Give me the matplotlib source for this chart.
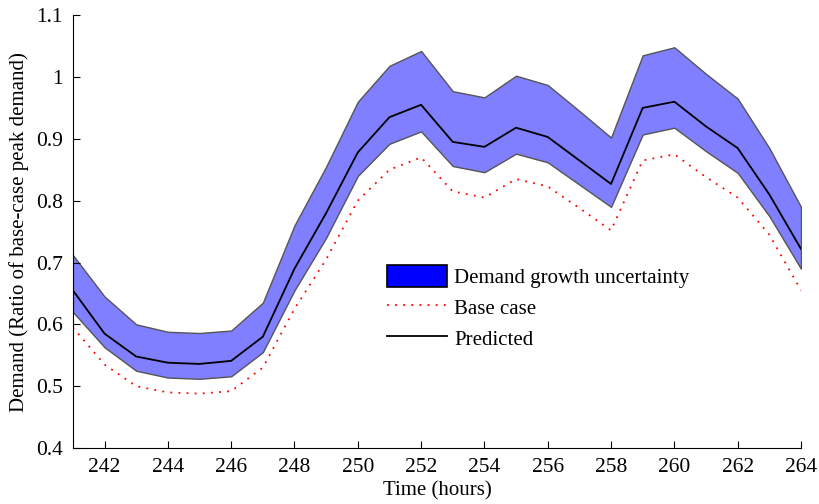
import matplotlib
matplotlib.use("Agg")
import matplotlib.pyplot as plt
import numpy as np
from matplotlib.patches import Patch
from matplotlib.lines import Line2D

plt.rcParams['font.family'] = ['Liberation Serif', 'DejaVu Serif']

# hours
hours = np.arange(241, 265)

# Predicted demand
predicted = [0.655, 0.585, 0.548, 0.538, 0.536, 0.541, 0.580, 0.690, 0.780, 0.878,
             0.935, 0.955, 0.895, 0.887, 0.918, 0.903, 0.865, 0.827, 0.950, 0.960,
             0.920, 0.885, 0.810, 0.722]

# Uncertainty band
upper = [0.712, 0.645, 0.600, 0.588, 0.586, 0.590, 0.635, 0.760, 0.855, 0.960,
         1.018, 1.042, 0.977, 0.967, 1.002, 0.987, 0.945, 0.902, 1.035, 1.048,
         1.005, 0.965, 0.885, 0.790]
lower = [0.620, 0.563, 0.525, 0.514, 0.512, 0.516, 0.555, 0.655, 0.740, 0.840,
         0.892, 0.912, 0.856, 0.846, 0.876, 0.862, 0.826, 0.790, 0.907, 0.918,
         0.880, 0.845, 0.775, 0.690]

# Base case
base = [0.595, 0.535, 0.500, 0.490, 0.488, 0.492, 0.530, 0.625, 0.705, 0.800,
        0.850, 0.870, 0.815, 0.805, 0.835, 0.823, 0.788, 0.752, 0.865, 0.875,
        0.838, 0.805, 0.745, 0.655]

xticks = np.arange(242, 265, 2)
yticks = [0.4, 0.5, 0.6, 0.7, 0.8, 0.9, 1.0, 1.1]
ytick_labels = ['0.4', '0.5', '0.6', '0.7', '0.8', '0.9', '1', '1.1']

fig = plt.figure(figsize=(8.19, 5.04), dpi=100)
ax = fig.add_axes([0.089, 0.111, 0.889, 0.859])

ax.fill_between(hours, lower, upper, facecolor='#7f7fff', edgecolor='#555555', linewidth=1.0)
ax.plot(hours, base, color='red', linestyle=(0, (1, 3.5)), linewidth=1.3)
ax.plot(hours, predicted, color='black', linewidth=1.3)

ax.set_xlim(241, 264)
ax.set_ylim(0.4, 1.1)
ax.set_xticks(xticks)
ax.set_yticks(yticks)
ax.set_yticklabels(ytick_labels)
ax.tick_params(direction='in', labelsize=15.5, length=5, pad=7)
ax.spines['top'].set_visible(False)
ax.spines['right'].set_visible(False)
ax.set_xlabel('Time (hours)', fontsize=15, labelpad=3)
ax.set_ylabel('Demand (Ratio of base-case peak demand)', fontsize=15, labelpad=5)

handles = [Patch(facecolor='blue', edgecolor='black', linewidth=1.2),
           Line2D([], [], color='red', linestyle=(0, (1, 3.5)), linewidth=1.3),
           Line2D([], [], color='black', linewidth=1.3)]
labels = ['Demand growth uncertainty', 'Base case', 'Predicted']
ax.legend(handles, labels, loc='upper left', bbox_to_anchor=(0.405, 0.465), frameon=False,
          fontsize=15, handlelength=2.9, handleheight=1.2, labelspacing=0.4, handletextpad=0.35)

fig.savefig('out.png', dpi=100)
